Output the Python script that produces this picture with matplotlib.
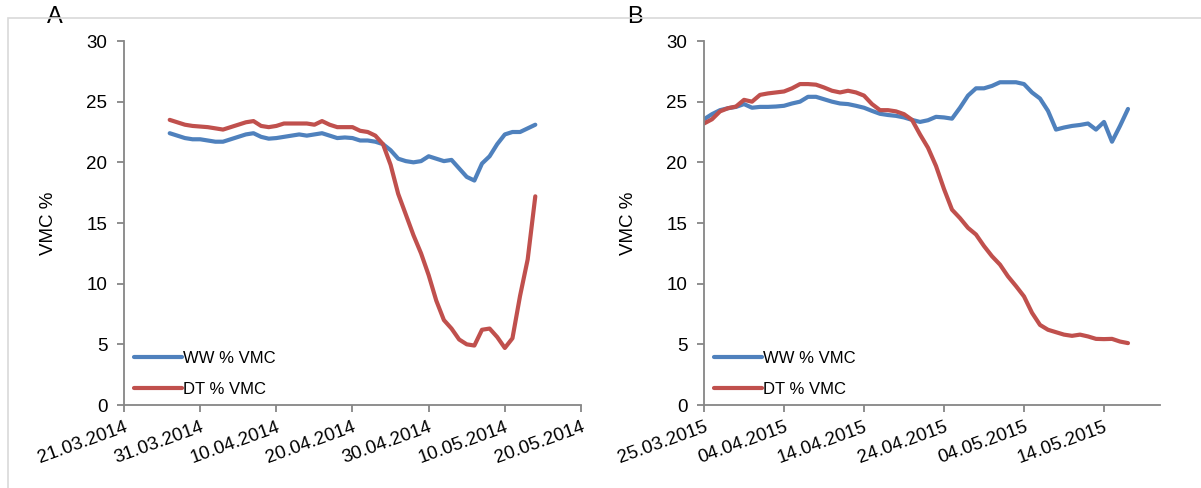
import matplotlib
matplotlib.use("Agg")
import matplotlib.pyplot as plt
import matplotlib.dates as mdates
import pandas as pd
from matplotlib.patches import Rectangle

plt.rcParams['font.family'] = ['Liberation Sans', 'DejaVu Sans']

# 2014 season, daily readings 27.03 - 14.05
start_2014 = "2014-03-27"
ww_2014 = [22.4, 22.2, 22.0, 21.9, 21.9, 21.8, 21.7, 21.7, 21.9, 22.1,
           22.3, 22.4, 22.1, 21.95, 22.0, 22.1, 22.2, 22.3, 22.2, 22.3,
           22.4, 22.2, 22.0, 22.05, 22.0, 21.8, 21.8, 21.7, 21.5, 21.0,
           20.3, 20.1, 20.0, 20.1, 20.5, 20.3, 20.1, 20.2, 19.5, 18.8,
           18.5, 19.9, 20.5, 21.5, 22.3, 22.5, 22.5, 22.8, 23.1]
dt_2014 = [23.5, 23.3, 23.1, 23.0, 22.95, 22.9, 22.8, 22.7, 22.9, 23.1,
           23.3, 23.4, 23.0, 22.9, 23.0, 23.2, 23.2, 23.2, 23.2, 23.1,
           23.4, 23.1, 22.9, 22.9, 22.9, 22.6, 22.5, 22.2, 21.5, 19.8,
           17.4, 15.7, 14.0, 12.5, 10.7, 8.6, 7.0, 6.3, 5.4, 5.0,
           4.9, 6.2, 6.3, 5.6, 4.7, 5.5, 9.0, 12.0, 17.2]

# 2015 season, daily readings 25.03 - 17.05
start_2015 = "2015-03-25"
ww_2015 = [23.55, 23.97, 24.3, 24.46, 24.57, 24.8, 24.5, 24.57, 24.57, 24.6,
           24.66, 24.85, 25.0, 25.4, 25.4, 25.2, 25.0, 24.85, 24.8, 24.66,
           24.5, 24.24, 24.0, 23.9, 23.83, 23.7, 23.5, 23.33, 23.47, 23.75,
           23.7, 23.6, 24.5, 25.5, 26.1, 26.1, 26.3, 26.6, 26.6, 26.6,
           26.45, 25.76, 25.26, 24.24, 22.7, 22.87, 23.0, 23.08, 23.2, 22.7,
           23.33, 21.7, 23.0, 24.4]
dt_2015 = [23.2, 23.55, 24.2, 24.46, 24.6, 25.15, 25.0, 25.56, 25.68, 25.76,
           25.84, 26.1, 26.45, 26.45, 26.4, 26.17, 25.9, 25.76, 25.9, 25.76,
           25.5, 24.8, 24.3, 24.3, 24.2, 23.97, 23.5, 22.3, 21.2, 19.7,
           17.8, 16.1, 15.4, 14.6, 14.05, 13.1, 12.26, 11.57, 10.6, 9.8,
           8.95, 7.6, 6.6, 6.2, 6.0, 5.8, 5.7, 5.8, 5.65, 5.45,
           5.43, 5.45, 5.23, 5.1]

ticks_2014 = ["2014-03-21", "2014-03-31", "2014-04-10", "2014-04-20",
              "2014-04-30", "2014-05-10", "2014-05-20"]
ticks_2015 = ["2015-03-25", "2015-04-04", "2015-04-14", "2015-04-24",
              "2015-05-04", "2015-05-14"]

BLUE = "#4F81BD"
RED = "#C0504D"
GREY = "#868686"

W, H = 1201, 488
fig = plt.figure(figsize=(W / 100, H / 100), dpi=100)

# thin outer border like an office chart area
fig.patches.append(Rectangle((8 / W, -0.2), 1.2, (H - 18) / H + 0.2, transform=fig.transFigure,
                             fill=False, edgecolor="#d9d9d9", lw=1.2, zorder=0))


def panel(rect, start, ww, dt, ticks, xmax, letter):
    ax = fig.add_axes(rect)
    dates = pd.date_range(start, periods=len(ww), freq="D")
    ax.plot(dates, ww, color=BLUE, lw=3, label="WW % VMC", solid_capstyle="round")
    ax.plot(dates, dt, color=RED, lw=3, label="DT % VMC", solid_capstyle="round")
    ax.set_xlim(pd.Timestamp(ticks[0]), pd.Timestamp(xmax))
    ax.set_ylim(0, 30)
    ax.set_yticks(range(0, 31, 5))
    ax.set_xticks([pd.Timestamp(t) for t in ticks])
    ax.xaxis.set_major_formatter(mdates.DateFormatter("%d.%m.%Y"))
    for lab in ax.get_xticklabels():
        lab.set_rotation(20)
        lab.set_ha("right")
        lab.set_rotation_mode("anchor")
    for s in ("top", "right"):
        ax.spines[s].set_visible(False)
    for s in ("left", "bottom"):
        ax.spines[s].set_color(GREY)
        ax.spines[s].set_linewidth(1.3)
    ax.tick_params(axis="both", colors=GREY, labelcolor="black", labelsize=13.5,
                   length=5, width=1.3)
    ax.tick_params(axis="y", pad=7)
    ax.tick_params(axis="x", pad=5)
    ax.set_ylabel("VMC %", fontsize=13.5)
    ax.yaxis.set_label_coords(-0.147, 0.5)
    ax.legend(loc="lower left", frameon=False, fontsize=12, handlelength=2.9,
              handletextpad=0.05, labelspacing=0.95, borderaxespad=0.2,
              bbox_to_anchor=(0.0, -0.005))
    ax.text(-0.168, 1.066, letter, transform=ax.transAxes, fontsize=17, va="center")
    return ax


panel([124 / W, 83 / H, 457 / W, 364 / H], start_2014, ww_2014, dt_2014,
      ticks_2014, "2014-05-20", "A")
panel([704 / W, 83 / H, 456 / W, 364 / H], start_2015, ww_2015, dt_2015,
      ticks_2015, "2015-05-21", "B")

fig.savefig("out.png", dpi=100)
